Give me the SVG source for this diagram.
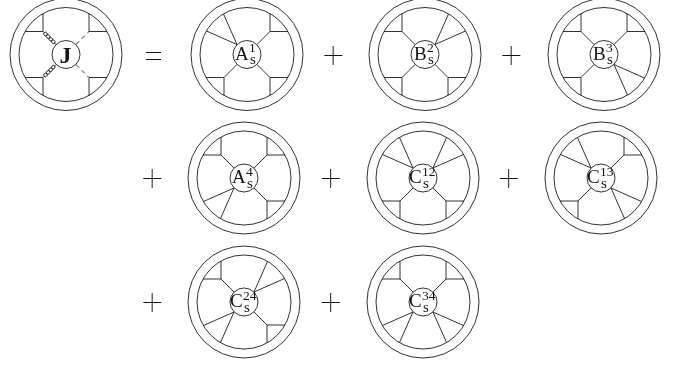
<svg xmlns="http://www.w3.org/2000/svg" width="685" height="365" viewBox="0 0 685 365">
<style>
.l{fill:none;stroke:#1c1c1c;stroke-width:.9}
.d{stroke-dasharray:4.5 3.5}
text{font-family:"Liberation Serif","Times New Roman",serif;fill:#151515}
.lb{filter:url(#g)}
.m{font-size:19px}
.u{font-size:13.500px}
.s{font-size:15px}
.o{font-family:Roboto,"Liberation Sans",sans-serif;font-weight:100;font-size:37px;text-anchor:middle}
</style>
<defs>
<filter id="g" x="-20%" y="-20%" width="140%" height="140%" color-interpolation-filters="sRGB"><feOffset dx="0" dy="0"/></filter>
<g id="ring"><circle class="l" r="56"/><circle class="l" r="47"/><circle class="l" r="14"/></g>
<path id="c" class="l" d="M-10-10L-23-23V-41M-23-23H-41"/>
<path id="t" class="l" d="M-10-10L-23.5-40.5M-10-10L-40.5-23.5"/>
<g id="coil"><path class="l" d="M-32.500 0h1.500M-16.500 0h2.500"/><ellipse class="l" cx="-29" cy="0" rx="1.900" ry="1.700"/><ellipse class="l" cx="-25.300" cy="0" rx="1.900" ry="1.700"/><ellipse class="l" cx="-21.600" cy="0" rx="1.900" ry="1.700"/><ellipse class="l" cx="-18" cy="0" rx="1.900" ry="1.700"/></g>
</defs>
<g id="lhs-J" transform="translate(66 54.5)">
<use href="#ring"/>
<path class="l" d="M-23-23V-41M-23-23H-41M23-23V-41M23-23H41M-23 23V41M-23 23H-41M23 23V41M23 23H41"/>
<path class="l d" d="M10-10L23-23M10 10L23 23"/>
<use href="#coil" transform="rotate(45)"/>
<use href="#coil" transform="rotate(-45)"/>
<g class="lb"><text x="-6.500" y="8" font-size="24" font-weight="bold">J</text></g>
</g>
<g id="eq" class="lb"><text class="o" x="153.500" y="68">=</text></g>
<g id="A1s" transform="translate(247 54.5)">
<use href="#ring"/>
<use href="#t"/><use href="#c" transform="scale(-1 1)"/><use href="#c" transform="scale(-1 -1)"/><use href="#c" transform="scale(1 -1)"/>
<g class="lb"><text class="m" x="-12" y="5">A</text><text class="u" x="2" y="-2.5">1</text><text class="s" x="3" y="9.5">s</text></g>
</g>
<g id="B2s" transform="translate(425 54.5)">
<use href="#ring"/>
<use href="#c"/><use href="#t" transform="scale(-1 1)"/><use href="#c" transform="scale(-1 -1)"/><use href="#c" transform="scale(1 -1)"/>
<g class="lb"><text class="m" x="-11" y="5">B</text><text class="u" x="2" y="-2.5">2</text><text class="s" x="3" y="9.5">s</text></g>
</g>
<g id="B3s" transform="translate(604 54.5)">
<use href="#ring"/>
<use href="#c"/><use href="#c" transform="scale(-1 1)"/><use href="#t" transform="scale(-1 -1)"/><use href="#c" transform="scale(1 -1)"/>
<g class="lb"><text class="m" x="-11" y="5">B</text><text class="u" x="2" y="-2.5">3</text><text class="s" x="3" y="9.5">s</text></g>
</g>
<g id="A4s" transform="translate(244 178)">
<use href="#ring"/>
<use href="#c"/><use href="#c" transform="scale(-1 1)"/><use href="#c" transform="scale(-1 -1)"/><use href="#t" transform="scale(1 -1)"/>
<g class="lb"><text class="m" x="-12" y="5">A</text><text class="u" x="2" y="-2.5">4</text><text class="s" x="3" y="9.5">s</text></g>
</g>
<g id="C12s" transform="translate(423 178)">
<use href="#ring"/>
<use href="#t"/><use href="#t" transform="scale(-1 1)"/><use href="#c" transform="scale(-1 -1)"/><use href="#c" transform="scale(1 -1)"/>
<g class="lb"><text class="m" x="-14" y="5">C</text><text class="u" x="-1" y="-2.5">12</text><text class="s" x="0" y="10">s</text></g>
</g>
<g id="C13s" transform="translate(601 178)">
<use href="#ring"/>
<use href="#t"/><use href="#c" transform="scale(-1 1)"/><use href="#t" transform="scale(-1 -1)"/><use href="#c" transform="scale(1 -1)"/>
<g class="lb"><text class="m" x="-14" y="5">C</text><text class="u" x="-1" y="-2.5">13</text><text class="s" x="0" y="10">s</text></g>
</g>
<g id="C24s" transform="translate(244 302)">
<use href="#ring"/>
<use href="#c"/><use href="#t" transform="scale(-1 1)"/><use href="#c" transform="scale(-1 -1)"/><use href="#t" transform="scale(1 -1)"/>
<g class="lb"><text class="m" x="-14" y="5">C</text><text class="u" x="-1" y="-2.5">24</text><text class="s" x="0" y="10">s</text></g>
</g>
<g id="C34s" transform="translate(423 302)">
<use href="#ring"/>
<use href="#c"/><use href="#c" transform="scale(-1 1)"/><use href="#t" transform="scale(-1 -1)"/><use href="#t" transform="scale(1 -1)"/>
<g class="lb"><text class="m" x="-14" y="5">C</text><text class="u" x="-1" y="-2.5">34</text><text class="s" x="0" y="10">s</text></g>
</g>
<g id="plus" class="lb">
<text class="o" x="333.500" y="68">+</text>
<text class="o" x="511.500" y="68">+</text>
<text class="o" x="152.500" y="191">+</text>
<text class="o" x="331" y="191">+</text>
<text class="o" x="509" y="191">+</text>
<text class="o" x="152.500" y="315">+</text>
<text class="o" x="331" y="315">+</text>
</g>
</svg>
